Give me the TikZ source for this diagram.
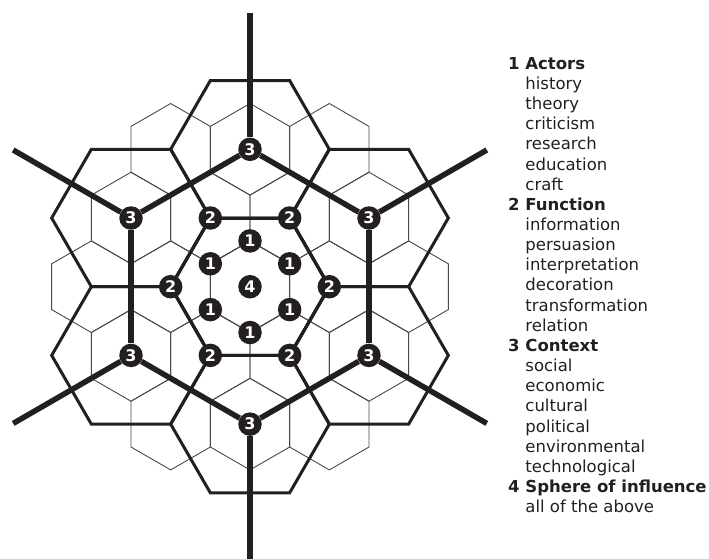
\documentclass[tikz,border=0pt]{standalone}
\usepackage{fontspec}
\setmainfont{DejaVu Sans}
\definecolor{ink}{HTML}{231F20}
\definecolor{gridc}{HTML}{4A4A4A}
\begin{document}
\begin{tikzpicture}[x=1pt,y=-1pt,
  finegrid/.style={draw=gridc, line width=0.9pt, line join=miter},
  coarse/.style={draw=ink, line width=3pt, line join=miter},
  heavy/.style={draw=ink, line width=5.5pt},
  dot/.style={circle, fill=ink, inner sep=0pt, minimum size=23.5pt, text=white, font=\fontsize{16}{16}\selectfont\bfseries},
  legend/.style={anchor=base west, inner sep=0pt, font=\fontsize{16.5}{20}\selectfont, text=ink}
]
\useasboundingbox (0,0) rectangle (709,558);
\begin{scope}[shift={(250,286.7)}, x=45.8pt, y=45.8pt]
  % fine hexagon grid (19 cells)
  \foreach \ang/\r in {0/0, 0/1.7321, 60/1.7321, 120/1.7321, 180/1.7321, 240/1.7321, 300/1.7321,
      0/3.4641, 60/3.4641, 120/3.4641, 180/3.4641, 240/3.4641, 300/3.4641,
      30/3, 90/3, 150/3, 210/3, 270/3, 330/3} {
    \draw[finegrid, shift={(\ang:\r)}] (30:1) -- (90:1) -- (150:1) -- (210:1) -- (270:1) -- (330:1) -- cycle;
  }
  % coarse hexagons (7 cells)
  \foreach \ang/\r in {0/0, 30/3, 90/3, 150/3, 210/3, 270/3, 330/3} {
    \draw[coarse, shift={(\ang:\r)}] (0:1.7321) -- (60:1.7321) -- (120:1.7321) -- (180:1.7321) -- (240:1.7321) -- (300:1.7321) -- cycle;
  }
  % nodes
  \node[dot] (n4) at (0,0) {4};
  \foreach \i/\ang in {1/90, 2/30, 3/330, 4/270, 5/210, 6/150} {
    \node[dot] (a\i) at (\ang:1) {1};
    \node[dot] (c\i) at (\ang:3) {3};
    \coordinate (e\i) at (\ang:5.97);
  }
  \foreach \i/\ang in {1/120, 2/60, 3/0, 4/300, 5/240, 6/180} {
    \node[dot] (b\i) at (\ang:1.7321) {2};
  }
  % connectors
  \foreach \i/\j in {1/2, 2/3, 3/4, 4/5, 5/6, 6/1} {
    \draw[finegrid] (a\i) -- (a\j);
    \draw[coarse] (b\i) -- (b\j);
    \draw[heavy] (c\i) -- (c\j);
  }
  \foreach \i in {1,...,6} {
    \draw[heavy] (c\i) -- (e\i);
  }
\end{scope}
% legend
\foreach \t [count=\i from 0] in {
  {\textbf{1 Actors}}, {\hphantom{\textbf{1 }}history}, {\hphantom{\textbf{1 }}theory}, {\hphantom{\textbf{1 }}criticism},
  {\hphantom{\textbf{1 }}research}, {\hphantom{\textbf{1 }}education}, {\hphantom{\textbf{1 }}craft},
  {\textbf{2 Function}}, {\hphantom{\textbf{1 }}information}, {\hphantom{\textbf{1 }}persuasion},
  {\hphantom{\textbf{1 }}interpretation}, {\hphantom{\textbf{1 }}decoration}, {\hphantom{\textbf{1 }}transformation},
  {\hphantom{\textbf{1 }}relation},
  {\textbf{3 Context}}, {\hphantom{\textbf{1 }}social}, {\hphantom{\textbf{1 }}economic}, {\hphantom{\textbf{1 }}cultural},
  {\hphantom{\textbf{1 }}political}, {\hphantom{\textbf{1 }}environmental}, {\hphantom{\textbf{1 }}technological},
  {\textbf{4 Sphere of influence}}, {\hphantom{\textbf{1 }}all of the above}} {
  \node[legend] (L\i) at (508, {69.3+20.15*\i}) {\t};
}
\end{tikzpicture}
\end{document}
